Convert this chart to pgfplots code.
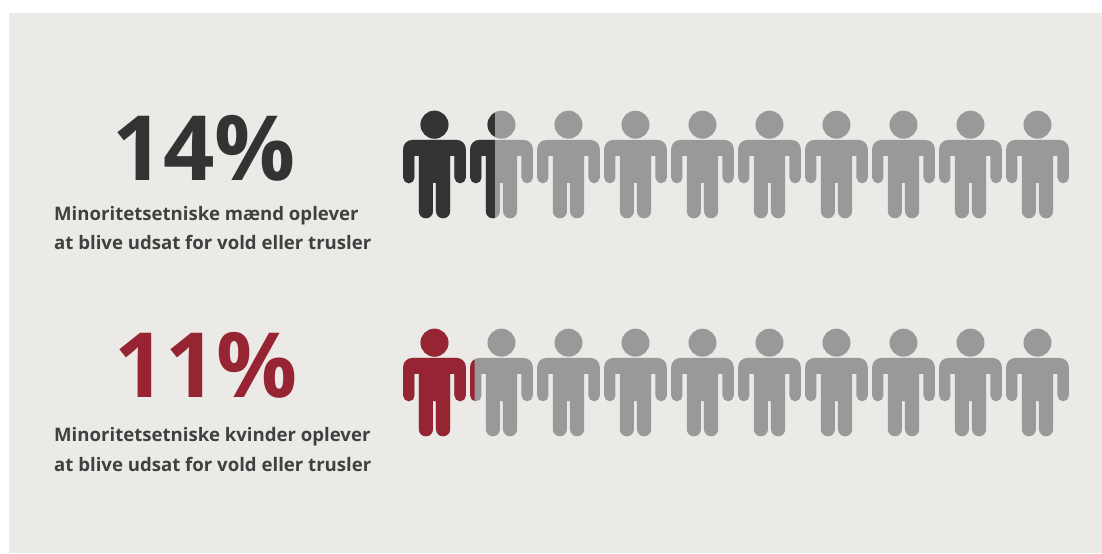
\documentclass[border=0pt]{standalone}
\usepackage{fontspec}
\setmainfont{Open Sans}
\usepackage{pgfplots}
\usepackage{pgfplotstable}
\pgfplotsset{compat=1.18}

\definecolor{panel}{HTML}{EBEAE6}
\definecolor{greyp}{HTML}{999999}
\definecolor{darkp}{HTML}{333333}
\definecolor{redp}{HTML}{962433}
\definecolor{txt}{HTML}{404040}

% one person, 1pt = 1px of the picture
\newcommand\personshape{%
  \fill[draw=none] (0,39.3) circle[radius=14];
  \fill[draw=none] (22.3,24) -- (-22.3,24) arc[start angle=90,end angle=180,radius=9]
    -- (-31.3,-13.65) arc[start angle=180,end angle=360,radius=5.65]
    -- (-20,8) -- (-15.7,8)
    -- (-15.7,-47.2) arc[start angle=180,end angle=360,radius=7.1]
    -- (-1.5,-19) -- (1.5,-19)
    -- (1.5,-47.2) arc[start angle=180,end angle=360,radius=7.1]
    -- (15.7,8) -- (20,8)
    -- (20,-13.65) arc[start angle=180,end angle=360,radius=5.65]
    -- (31.3,15) arc[start angle=0,end angle=90,radius=9] -- cycle;}
\pgfdeclareplotmark{person}{\begin{scope}[x=1pt,y=1pt]\personshape\end{scope}}
% same, only the part left of \cutx
\pgfdeclareplotmark{partperson}{\begin{scope}[x=1pt,y=1pt]
  \clip[draw=none] (-40,-60) rectangle (\cutx,60);
  \personshape\end{scope}}

% every person stands for 10 %, 6.7pt per %
\pgfplotstableread{
x row
5 1
15 1
25 1
35 1
45 1
55 1
65 1
75 1
85 1
95 1
5 0
15 0
25 0
35 0
45 0
55 0
65 0
75 0
85 0
95 0
}\allpeople

\begin{document}
\begin{tikzpicture}
\begin{axis}[
    scale only axis,
    width=1102pt, height=553pt,
    xmin=-59.85, xmax=104.63,
    ymin=-0.7844, ymax=1.7523,
    hide axis,
    clip=false,
]
\fill[white] (rel axis cs:0,0) rectangle (rel axis cs:1,1);
\fill[panel] (rel axis cs:0.0082,0) rectangle (rel axis cs:1,0.9765);

\addplot[only marks, mark=person, mark options={fill=greyp, draw=none}] table[x=x,y=row] {\allpeople};

% 14 %
\addplot[only marks, mark=person, mark options={fill=darkp, draw=none}] coordinates {(5,1)};
\addplot[only marks, mark=partperson, mark options={fill=darkp, draw=none, /utils/exec={\pgfmathsetmacro\cutx{(14-15)*6.7}}}] coordinates {(15,1)};
% 11 %
\addplot[only marks, mark=person, mark options={fill=redp, draw=none}] coordinates {(5,0)};
\addplot[only marks, mark=partperson, mark options={fill=redp, draw=none, /utils/exec={\pgfmathsetmacro\cutx{(11-15)*6.7}}}] coordinates {(15,0)};

\node[anchor=base, text=darkp, font=\fontsize{90}{90}\selectfont\bfseries] at (rel axis cs:0.1851,0.6727) {14\%};
\node[anchor=base west, inner sep=0pt, text=txt, font=\fontsize{18.6}{18.6}\selectfont\bfseries] at (rel axis cs:0.0490,0.6013) {Minoritetsetniske mænd oplever};
\node[anchor=base west, inner sep=0pt, text=txt, font=\fontsize{18.6}{18.6}\selectfont\bfseries] at (rel axis cs:0.0490,0.5497) {at blive udsat for vold eller trusler};

\node[anchor=base, text=redp, font=\fontsize{90}{90}\selectfont\bfseries] at (rel axis cs:0.1869,0.2803) {11\%};
\node[anchor=base west, inner sep=0pt, text=txt, font=\fontsize{18.6}{18.6}\selectfont\bfseries] at (rel axis cs:0.0490,0.2025) {Minoritetsetniske kvinder oplever};
\node[anchor=base west, inner sep=0pt, text=txt, font=\fontsize{18.6}{18.6}\selectfont\bfseries] at (rel axis cs:0.0490,0.1474) {at blive udsat for vold eller trusler};
\end{axis}
\end{tikzpicture}
\end{document}
